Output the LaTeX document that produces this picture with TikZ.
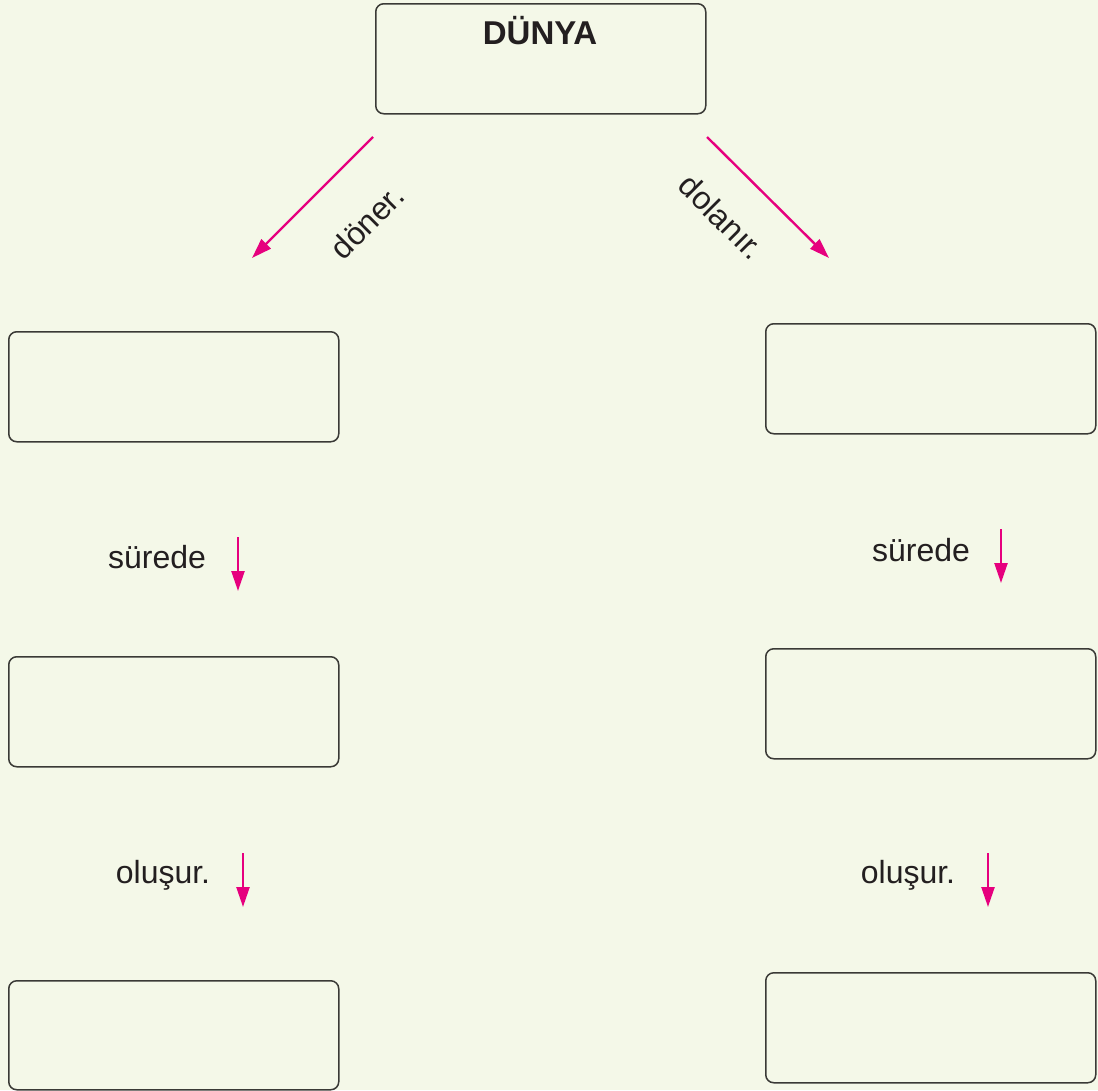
\documentclass[tikz,border=0pt]{standalone}
\usepackage{fontspec}
\setmainfont{Liberation Sans}
\usetikzlibrary{arrows.meta}
\definecolor{bg}{HTML}{F4F8E8}
\definecolor{pinkline}{HTML}{E6007E}
\definecolor{ink}{HTML}{231F20}
\definecolor{boxline}{HTML}{3A3A36}
\begin{document}
\begin{tikzpicture}[x=1pt,y=-1pt,
  box/.style={draw=boxline,line width=1.5pt,rounded corners=8pt,minimum width=330pt,minimum height=110pt,anchor=north west,inner sep=0pt},
  lbl/.style={text=ink,font=\fontsize{32}{38}\selectfont,inner sep=0pt},
  parr/.style={draw=pinkline,line width=2.4pt,-{Triangle[length=20pt,width=13pt]}}]
\fill[bg] (0,0) rectangle (1098,1090);
\useasboundingbox (0,0) rectangle (1098,1090);
\node[box] (top) at (375,3) {};
\node[text=ink,font=\bfseries\fontsize{33}{38}\selectfont,anchor=base] (title) at (540,44) {DÜNYA};
\node[box] (l1) at (8,331) {};
\node[box] (l2) at (8,656) {};
\node[box,minimum height=109pt] (l3) at (8,980) {};
\node[box] (r1) at (765,323) {};
\node[box] (r2) at (765,648) {};
\node[box] (r3) at (765,972) {};
\coordinate (a1s) at (373,137); \coordinate (a1e) at (252,258);
\coordinate (a2s) at (707,137); \coordinate (a2e) at (829,258);
\draw[parr] (a1s) -- (a1e);
\draw[parr] (a2s) -- (a2e);
\node[lbl,rotate=45] (doner) at (367,222) {döner.};
\node[lbl,rotate=-45] (dolanir) at (722,217) {dolanır.};
\coordinate (b1s) at (238,537); \coordinate (b1e) at (238,591);
\coordinate (b2s) at (243,853); \coordinate (b2e) at (243,907);
\coordinate (b3s) at (1001,529); \coordinate (b3e) at (1001,583);
\coordinate (b4s) at (988,853); \coordinate (b4e) at (988,907);
\draw[parr] (b1s) -- (b1e);
\draw[parr] (b2s) -- (b2e);
\draw[parr] (b3s) -- (b3e);
\draw[parr] (b4s) -- (b4e);
\node[lbl,anchor=base] (s1) at (157,568) {sürede};
\node[lbl,anchor=base] (s2) at (921,561) {sürede};
\node[lbl,anchor=base] (o1) at (163,883) {oluşur.};
\node[lbl,anchor=base] (o2) at (908,883) {oluşur.};
\end{tikzpicture}
\end{document}
